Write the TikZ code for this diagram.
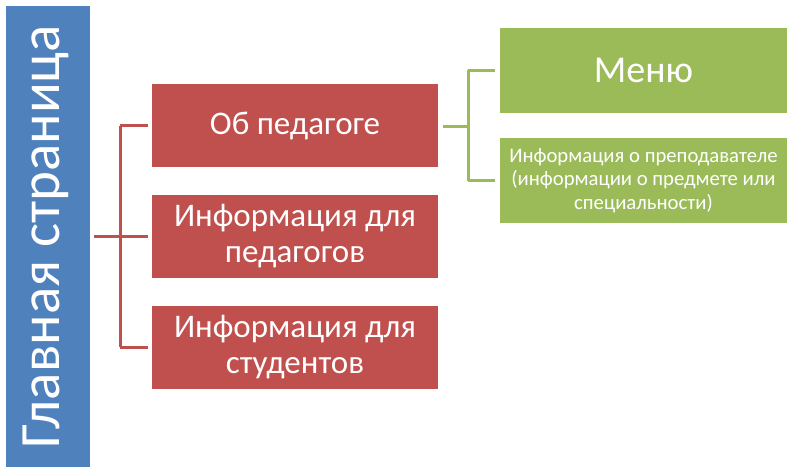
\documentclass[tikz,border=0pt]{standalone}
\usepackage{fontspec}
\setmainfont{Carlito}
\usetikzlibrary{calc}
\definecolor{cblue}{HTML}{4F81BD}
\definecolor{cred}{HTML}{C0504D}
\definecolor{cgreen}{HTML}{9BBB59}
\tikzset{
  box/.style={rectangle, inner sep=0pt, text=white, align=center},
  titlebox/.style={box, fill=cblue, minimum width=84pt, minimum height=461pt},
  redbox/.style={box, fill=cred, minimum width=286pt, minimum height=83pt, font=\fontsize{33}{36}\selectfont},
  greenbox/.style={box, fill=cgreen, minimum width=287pt, minimum height=85pt},
  redline/.style={draw=cred, line width=3pt},
  greenline/.style={draw=cgreen, line width=3pt},
}
\begin{document}
\begin{tikzpicture}[x=1pt,y=-1pt]
\useasboundingbox (0,0) rectangle (795,474);
\node[titlebox] (main) at (48,236.5) {};
\node[rotate=90, text=white, font=\fontsize{57}{60}\selectfont, inner sep=0pt] (title) at (46,236.5) {Главная страница};
\node[redbox] (r1) at (295,125.5) {Об педагоге};
\node[redbox] (r2) at (295,236.5) {Информация для\\педагогов};
\node[redbox] (r3) at (295,347) {Информация для\\студентов};
\node[greenbox, font=\fontsize{38}{42}\selectfont] (g1) at (643.5,70) {Меню};
\node[greenbox, font=\fontsize{20.7}{23.5}\selectfont] (g2) at (643.5,180.5) {Информация о преподавателе\\(информации о предмете или\\специальности)};
\coordinate (jr) at (120,236.5);
\coordinate (jg) at (468,126.5);
\draw[redline] ([xshift=4pt]main.east) -- (jr);
\draw[redline] (jr |- r1.west) -- (jr |- r3.west);
\foreach \n in {r1,r2,r3} \draw[redline] (jr |- \n.west) -- ([xshift=-4pt]\n.west);
\draw[greenline] ([xshift=5pt]r1.east |- jg) -- (jg);
\draw[greenline] (jg |- g1.west) -- (jg |- g2.west);
\foreach \n in {g1,g2} \draw[greenline] (jg |- \n.west) -- ([xshift=-5pt]\n.west);
\end{tikzpicture}
\end{document}
